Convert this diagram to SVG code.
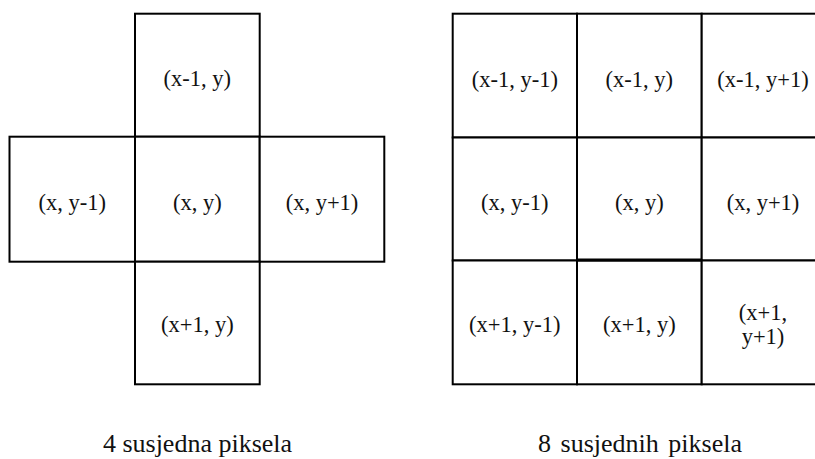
<svg xmlns="http://www.w3.org/2000/svg" width="815" height="459" viewBox="0 0 815 459">
<style>
.cell{fill:#fff;stroke:#000;stroke-width:2}
.t{font-family:"Liberation Serif","Times New Roman",serif;font-size:22.5px;fill:#111;text-anchor:middle}
.cap{font-family:"Liberation Serif","Times New Roman",serif;font-size:26px;fill:#111;text-anchor:middle}
</style>
<rect width="815" height="459" fill="#fff"/>
<g id="four-neighbours">
  <g id="n4-top"><rect class="cell" x="135" y="13.7" width="124.7" height="123"/><text class="t" x="197.3" y="86">(x-1, y)</text></g>
  <g id="n4-left"><rect class="cell" x="9.5" y="136.7" width="125.5" height="125"/><text class="t" x="72.2" y="209.5">(x, y-1)</text></g>
  <g id="n4-center"><rect class="cell" x="135" y="136.7" width="124.7" height="125"/><text class="t" x="197.3" y="209.5">(x, y)</text></g>
  <g id="n4-right"><rect class="cell" x="259.7" y="136.7" width="124.6" height="125"/><text class="t" x="322" y="209.5">(x, y+1)</text></g>
  <g id="n4-bottom"><rect class="cell" x="135" y="261.7" width="124.7" height="122.6"/><text class="t" x="197.3" y="332">(x+1, y)</text></g>
</g>
<g id="eight-neighbours">
  <g id="n8-r1c1"><rect class="cell" x="452.7" y="13.7" width="124.3" height="123.8"/><text class="t" x="514.8" y="86.5">(x-1, y-1)</text></g>
  <g id="n8-r1c2"><rect class="cell" x="577" y="13.7" width="124.7" height="123.8"/><text class="t" x="639.3" y="86.5">(x-1, y)</text></g>
  <g id="n8-r1c3"><rect class="cell" x="701.7" y="13.7" width="124.7" height="123.8"/><text class="t" x="763" y="86.5">(x-1, y+1)</text></g>
  <g id="n8-r2c1"><rect class="cell" x="452.7" y="137.5" width="124.3" height="123"/><text class="t" x="514.8" y="210">(x, y-1)</text></g>
  <g id="n8-r2c2"><rect class="cell" x="577" y="137.5" width="124.7" height="123"/><text class="t" x="639.3" y="210">(x, y)</text></g>
  <g id="n8-r2c3"><rect class="cell" x="701.7" y="137.5" width="124.7" height="123"/><text class="t" x="763" y="210">(x, y+1)</text></g>
  <g id="n8-r3c1"><rect class="cell" x="452.7" y="260.5" width="124.3" height="123.8"/><text class="t" x="514.8" y="332">(x+1, y-1)</text></g>
  <g id="n8-r3c2"><rect class="cell" x="577" y="260.5" width="124.7" height="123.8"/><text class="t" x="639.3" y="332">(x+1, y)</text></g>
  <g id="n8-r3c3"><rect class="cell" x="701.7" y="260.5" width="124.7" height="123.8"/><text class="t" x="763" y="320">(x+1,</text><text class="t" x="763" y="344">y+1)</text></g>
  <line x1="577" y1="260" x2="701.7" y2="260" stroke="#000" stroke-width="3"/>
</g>
<text class="cap" x="197.5" y="452">4 susjedna piksela</text>
<text class="cap" x="640" y="452" word-spacing="3">8 susjednih piksela</text>
</svg>
